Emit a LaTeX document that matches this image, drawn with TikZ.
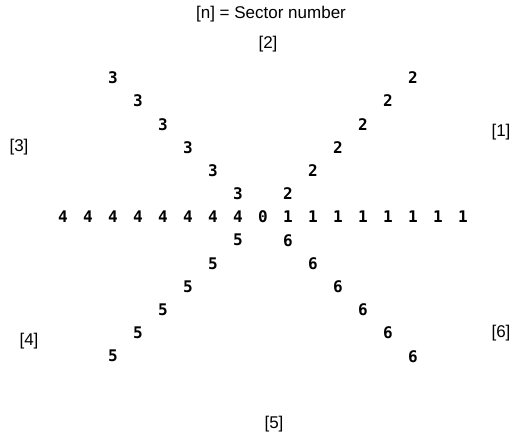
\documentclass[tikz,border=0pt]{standalone}
\usepackage{fontspec}
\setmainfont{Liberation Sans}
\newfontfamily\digitfont{DejaVu Sans Mono}
\begin{document}
\begin{tikzpicture}[x=1pt,y=-1pt,
  num/.style={font=\digitfont\bfseries\fontsize{16}{18}\selectfont, inner sep=0pt},
  lab/.style={font=\fontsize{17}{19}\selectfont, inner sep=0pt}]
\useasboundingbox (0,0) rectangle (512,438);
\node[lab] (title) at (271,14) {[n] = Sector number};
\node[lab] (s2) at (268,44) {[2]};
\node[lab] (s1) at (501,132) {[1]};
\node[lab] (s3) at (19,147) {[3]};
\node[lab] (s4) at (29,341) {[4]};
\node[lab] (s6) at (501,333) {[6]};
\node[lab] (s5) at (274,424) {[5]};
\node[num] (c0) at (263,217) {0};
\foreach \k in {1,...,8} {
  \node[num] (e\k) at (263+25*\k,217) {1};
  \node[num] (w\k) at (263-25*\k,217) {4};
}
\foreach \k in {1,...,6} {
  \node[num] (ne\k) at (263+25*\k,217-23.2*\k) {2};
  \node[num] (nw\k) at (263-25*\k,217-23.2*\k) {3};
  \node[num] (sw\k) at (263-25*\k,217+23.2*\k) {5};
  \node[num] (se\k) at (263+25*\k,217+23.2*\k) {6};
}
\end{tikzpicture}
\end{document}
